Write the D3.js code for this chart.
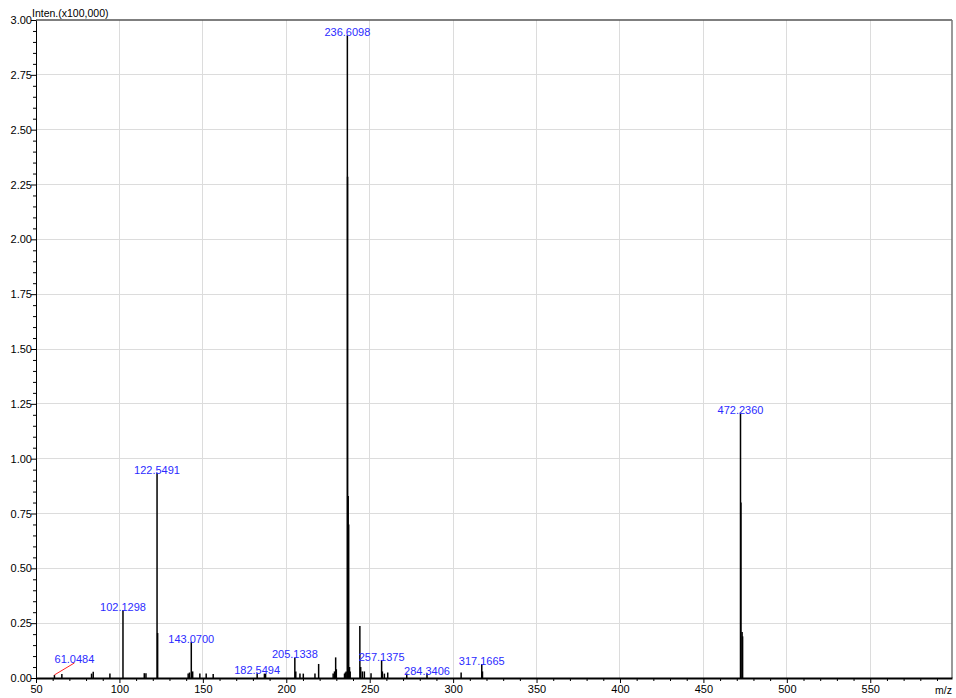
<!DOCTYPE html>
<html>
<head>
<meta charset="utf-8">
<script src="https://cdn.jsdelivr.net/npm/d3@7"></script>
<style>
  html, body { margin: 0; padding: 0; background: #fff; }
  svg { display: block; font-family: "Liberation Sans", Arial, sans-serif; }
</style>
</head>
<body>
<svg id="chart" width="956" height="698"></svg>
<script>
// ---- data (intensity in units of x100,000) ----
const peakMz = [61.05, 65.5, 83.3, 84.3, 94.3, 102.13, 114.9, 115.9, 122.55, 122.9,
  141.2, 142.0, 143.07, 143.9, 148.2, 152.0, 156.2, 182.55, 186.9, 187.6,
  205.13, 205.7, 208.2, 210.2, 217.2, 219.4, 228.1, 228.9, 229.6, 230.0,
  234.9, 235.4, 235.9, 236.61, 236.75, 237.11, 237.4, 237.9, 238.3,
  244.1, 244.6, 245.6, 246.8, 250.8, 257.14, 257.6, 258.8, 260.8, 272.2,
  284.34, 304.8, 317.17, 317.6, 472.24, 472.5, 473.2, 473.5];
const peakInt = [0.014, 0.018, 0.02, 0.028, 0.02, 0.31, 0.022, 0.022, 0.935, 0.205,
  0.02, 0.025, 0.165, 0.03, 0.02, 0.02, 0.018, 0.022, 0.02, 0.02,
  0.094, 0.03, 0.02, 0.02, 0.02, 0.064, 0.02, 0.03, 0.094, 0.04,
  0.02, 0.025, 0.03, 2.93, 2.285, 0.83, 0.70, 0.05, 0.03,
  0.237, 0.05, 0.03, 0.03, 0.022, 0.082, 0.03, 0.02, 0.025, 0.02,
  0.02, 0.025, 0.064, 0.03, 1.21, 0.80, 0.21, 0.19];
const labelMz = [61.0484, 102.1298, 122.5491, 143.0700, 182.5494, 205.1338, 236.6098, 257.1375, 284.3406, 317.1665, 472.2360];
const labelInt = [0.014, 0.31, 0.935, 0.165, 0.022, 0.094, 2.93, 0.082, 0.02, 0.064, 1.21];
const labelText = ["61.0484", "102.1298", "122.5491", "143.0700", "182.5494", "205.1338", "236.6098", "257.1375", "284.3406", "317.1665", "472.2360"];
const leaderLabels = ["61.0484"];
const xMajorTicks = [50, 100, 150, 200, 250, 300, 350, 400, 450, 500, 550];
const yMajorTicks = [0, 0.25, 0.5, 0.75, 1.0, 1.25, 1.5, 1.75, 2.0, 2.25, 2.5, 2.75, 3.0];
const yAxisTitle = "Inten.(x100,000)";
const xAxisTitle = "m/z";

// ---- layout ----
const W = 956, H = 698;
const m = { left: 36, top: 20, right: 4, bottom: 20 };
const svg = d3.select("#chart");
const x = d3.scaleLinear().domain([50, 599]).range([m.left, W - m.right]);
const y = d3.scaleLinear().domain([0, 3]).range([H - m.bottom, m.top]);

const xMinor = d3.range(50, 600, 10).filter(v => v % 50 !== 0);
const yMinor = d3.range(0, 3.0001, 0.05).map(v => +v.toFixed(2)).filter(v => Math.abs((v / 0.25) - Math.round(v / 0.25)) > 1e-6);

// grid
const grid = svg.append("g").attr("stroke", "#dcdcdc").attr("stroke-width", 1).attr("shape-rendering", "crispEdges");
grid.selectAll("line.vx").data(xMajorTicks.filter(v => v > 50)).join("line")
  .attr("x1", d => x(d)).attr("x2", d => x(d)).attr("y1", y(0)).attr("y2", y(3));
grid.selectAll("line.hy").data(yMajorTicks.filter(v => v > 0 && v < 3)).join("line")
  .attr("x1", x(50)).attr("x2", x(599)).attr("y1", d => y(d)).attr("y2", d => y(d));

// frame (top & right)
svg.append("line").attr("x1", x(50)).attr("x2", x(599)).attr("y1", y(3)).attr("y2", y(3))
  .attr("stroke", "#555").attr("stroke-width", 1.5);
svg.append("line").attr("x1", x(599)).attr("x2", x(599)).attr("y1", y(3)).attr("y2", y(0))
  .attr("stroke", "#777").attr("stroke-width", 1.5);

// peaks
svg.append("g").selectAll("line").data(peakMz.map((d, i) => [d, peakInt[i]])).join("line")
  .attr("x1", d => x(d[0])).attr("x2", d => x(d[0]))
  .attr("y1", y(0)).attr("y2", d => y(d[1]))
  .attr("stroke", "#000").attr("stroke-width", 1.5);

// axes
const xAxis = svg.append("g").attr("transform", `translate(0,${y(0)})`)
  .call(d3.axisBottom(x).tickValues(xMajorTicks).tickSize(5).tickSizeOuter(0).tickFormat(d3.format("d")));
const xAxisMinor = svg.append("g").attr("transform", `translate(0,${y(0)})`)
  .call(d3.axisBottom(x).tickValues(xMinor).tickSize(3).tickSizeOuter(0).tickFormat(""));
xAxisMinor.select(".domain").remove();
xAxis.select(".domain").attr("stroke-width", 2);
xAxis.selectAll("text").attr("font-size", 11).attr("fill", "#000").attr("dy", "0.6em");

const yAxis = svg.append("g").attr("transform", `translate(${x(50)},0)`)
  .call(d3.axisLeft(y).tickValues(yMajorTicks).tickSize(5).tickSizeOuter(0).tickFormat(d3.format(".2f")));
const yAxisMinor = svg.append("g").attr("transform", `translate(${x(50)},0)`)
  .call(d3.axisLeft(y).tickValues(yMinor).tickSize(3).tickSizeOuter(0).tickFormat(""));
yAxisMinor.select(".domain").remove();
yAxis.selectAll("text").attr("font-size", 11).attr("fill", "#000").attr("x", -4);
svg.selectAll(".tick line").attr("stroke", "#000");

// axis titles
svg.append("text").attr("x", x(50) - 4).attr("y", 17).attr("font-size", 10.5).attr("fill", "#000").text(yAxisTitle);
svg.append("text").attr("x", W - 4).attr("y", 694).attr("text-anchor", "end").attr("font-size", 10.5).attr("fill", "#000").text(xAxisTitle);

// peak labels
const labels = svg.append("g").attr("font-size", 11).attr("fill", "#2b2bff");
labelMz.forEach((mz, i) => {
  const px = x(mz), py = y(labelInt[i]);
  if (leaderLabels.includes(labelText[i])) {
    const lx = px + 20, ly = py - 12;
    svg.append("line").attr("x1", px).attr("y1", py).attr("x2", lx).attr("y2", ly)
      .attr("stroke", "#ff2020").attr("stroke-width", 1);
    labels.append("text").attr("x", lx).attr("y", ly).attr("text-anchor", "middle").text(labelText[i]);
  } else {
    labels.append("text").attr("x", px).attr("y", py + 1).attr("text-anchor", "middle").text(labelText[i]);
  }
});
</script>
</body>
</html>
